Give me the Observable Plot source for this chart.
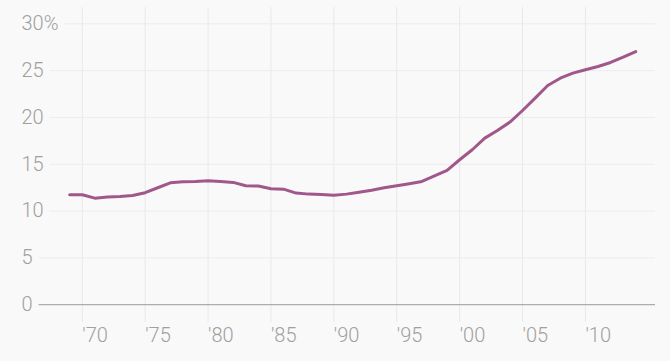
<!DOCTYPE html>
<html>
<head>
<meta charset="utf-8">
<script src="https://cdn.jsdelivr.net/npm/d3@7"></script>
<script src="https://cdn.jsdelivr.net/npm/@observablehq/plot@0.6"></script>
<style>
  html, body { margin: 0; padding: 0; background: #f9f9f9; }
  #chart svg { display: block; }
</style>
</head>
<body>
<div id="chart"></div>
<script>
const years = [1969,1970,1971,1972,1973,1974,1975,1976,1977,1978,1979,1980,1981,1982,1983,1984,1985,1986,1987,1988,1989,1990,1991,1992,1993,1994,1995,1996,1997,1998,1999,2000,2001,2002,2003,2004,2005,2006,2007,2008,2009,2010,2011,2012,2013,2014];
const values = [11.74,11.74,11.38,11.49,11.56,11.67,11.96,12.49,13.02,13.13,13.16,13.24,13.16,13.06,12.7,12.68,12.38,12.34,11.92,11.81,11.78,11.7,11.81,12.02,12.23,12.49,12.7,12.92,13.16,13.75,14.35,15.48,16.55,17.79,18.6,19.5,20.74,22.06,23.41,24.19,24.73,25.09,25.44,25.87,26.43,27.04];
const xTicks = [1970,1975,1980,1985,1990,1995,2000,2005,2010];
const yTicks = [0,5,10,15,20,25,30];
const xTickLabels = ["'70","'75","'80","'85","'90","'95","'00","'05","'10"];
const yTickLabels = ["0","5","10","15","20","25","30%"];

const data = years.map((y, i) => ({year: y, value: values[i]}));
const bg = "#f9f9f9";
const textColor = "#a0a0a0";
const font = "Roboto, 'Helvetica Neue', Arial, sans-serif";

const chart = Plot.plot({
  width: 670,
  height: 361,
  marginLeft: 21,
  marginRight: 15,
  marginTop: 7,
  marginBottom: 39,
  style: {background: bg, fontFamily: font},
  x: {domain: [1965.17, 2015.57], axis: null},
  y: {domain: [-1.9, 31.74], axis: null},
  marks: [
    Plot.ruleX(xTicks, {x: d => d, stroke: "#e8e8e8", strokeWidth: 1}),
    Plot.ruleY(yTicks, {y: d => d, stroke: d => d === 0 ? "#9a9a9a" : "#ececec", strokeWidth: 1}),
    Plot.text(yTicks, {
      y: d => d,
      frameAnchor: "left",
      textAnchor: "start",
      text: (d, i) => yTickLabels[i],
      fill: textColor,
      stroke: bg,
      strokeWidth: 14,
      paintOrder: "stroke",
      fontSize: 20,
      fontWeight: 300
    }),
    Plot.text(xTicks, {
      x: d => d,
      frameAnchor: "bottom",
      dy: 19,
      textAnchor: "start",
      text: (d, i) => xTickLabels[i],
      fill: textColor,
      fontSize: 20,
      fontWeight: 300
    }),
    Plot.line(data, {x: "year", y: "value", stroke: "#a0578a", strokeWidth: 3, strokeLinejoin: "round", strokeLinecap: "round"})
  ]
});
document.getElementById("chart").appendChild(chart);
</script>
</body>
</html>
